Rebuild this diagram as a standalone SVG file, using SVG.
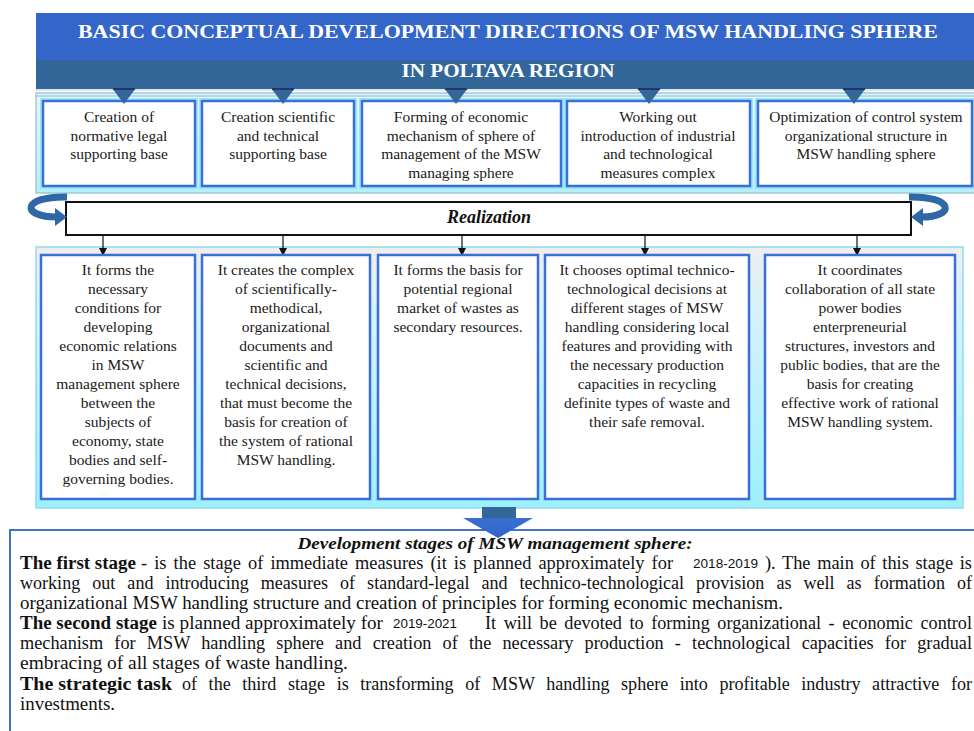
<svg xmlns="http://www.w3.org/2000/svg" width="974" height="731" viewBox="0 0 974 731">
<style>
.t{font-family:"Liberation Serif","Times New Roman",serif;font-size:15.5px;fill:#1a1a1a;text-anchor:middle}
.b{font-family:"Liberation Serif","Times New Roman",serif;font-size:18px;fill:#111}
.bb{font-weight:bold}
.yr{font-family:"Liberation Sans",Arial,sans-serif;font-size:13px;fill:#111}
.box{fill:#fff;stroke:#3a6fd8;stroke-width:2.5}
.glow{fill:none;stroke:#9fe6f5;stroke-width:6}
.tri{fill:#336699}
.conn{stroke:#111;stroke-width:1.2;fill:none;marker-end:url(#ah)}
.curl{fill:none;stroke:#2f68a6;stroke-width:7;stroke-linecap:butt}
.curlh{fill:#2f68a6}
</style>
<defs>
<marker id="ah" markerWidth="8" markerHeight="8" refX="7" refY="4" orient="auto" markerUnits="userSpaceOnUse">
<path d="M0,0 L8,4 L0,8 z" fill="#111"/>
</marker>
<linearGradient id="pb" x1="0" y1="0" x2="0" y2="1">
<stop offset="0" stop-color="#eeeeee"/>
<stop offset="0.25" stop-color="#d6f2fa"/>
<stop offset="1" stop-color="#9ef0fd"/>
</linearGradient>
<linearGradient id="pt" x1="0" y1="0" x2="0" y2="1">
<stop offset="0" stop-color="#e6f7fb"/>
<stop offset="1" stop-color="#b4f0fb"/>
</linearGradient>
<linearGradient id="ar" x1="0" y1="0" x2="0" y2="1">
<stop offset="0" stop-color="#3a6fd0"/>
<stop offset="1" stop-color="#2f64cf"/>
</linearGradient>
</defs>

<!-- header -->
<g id="header">
<rect x="36" y="13" width="945" height="47" fill="#3465c8"/>
<rect x="36" y="60" width="945" height="29" fill="#336799"/>
<line x1="36" y1="90" x2="974" y2="90" stroke="#d0dce8" stroke-width="1.5"/>
<text x="508" y="38" text-anchor="middle" textLength="860" lengthAdjust="spacingAndGlyphs" style="font-family:'Liberation Serif','Times New Roman',serif;font-size:19px;font-weight:bold;fill:#fff">BASIC CONCEPTUAL  DEVELOPMENT  DIRECTIONS OF MSW  HANDLING SPHERE</text>
<text x="508" y="77" text-anchor="middle" textLength="213" lengthAdjust="spacingAndGlyphs" style="font-family:'Liberation Serif','Times New Roman',serif;font-size:19px;font-weight:bold;fill:#fff">IN POLTAVA REGION</text>
</g>

<!-- top panel -->
<g id="top-panel">
<rect x="36" y="93" width="945" height="100" fill="url(#pt)" stroke="#9fc9d6" stroke-width="1.5"/>
<line x1="36" y1="96" x2="974" y2="96" stroke="#7fb6e8" stroke-width="1"/>
</g>

<g id="d1">
<rect class="glow" x="43" y="101" width="152" height="85"/>
<rect class="box" x="43" y="101" width="152" height="85"/>
<text class="t" x="119" y="122">Creation of</text>
<text class="t" x="119" y="140.5">normative legal</text>
<text class="t" x="119" y="159">supporting base</text>
</g>
<g id="d2">
<rect class="glow" x="202" y="101" width="152" height="85"/>
<rect class="box" x="202" y="101" width="152" height="85"/>
<text class="t" x="278" y="122">Creation scientific</text>
<text class="t" x="278" y="140.5">and technical</text>
<text class="t" x="278" y="159">supporting base</text>
</g>
<g id="d3">
<rect class="glow" x="362" y="101" width="199" height="85"/>
<rect class="box" x="362" y="101" width="199" height="85"/>
<text class="t" x="461" y="122">Forming of economic</text>
<text class="t" x="461" y="140.5">mechanism of sphere of</text>
<text class="t" x="461" y="159">management of the MSW</text>
<text class="t" x="461" y="177.5">managing  sphere</text>
</g>
<g id="d4">
<rect class="glow" x="567" y="101" width="183" height="85"/>
<rect class="box" x="567" y="101" width="183" height="85"/>
<text class="t" x="658" y="122">Working out</text>
<text class="t" x="658" y="140.5">introduction of industrial</text>
<text class="t" x="658" y="159">and technological</text>
<text class="t" x="658" y="177.5">measures complex</text>
</g>
<g id="d5">
<rect class="glow" x="758" y="101" width="214" height="85"/>
<rect class="box" x="758" y="101" width="214" height="85"/>
<text class="t" x="866" y="122">Optimization of control system</text>
<text class="t" x="866" y="140.5">organizational  structure in</text>
<text class="t" x="866" y="159">MSW handling sphere</text>
</g>

<g id="triangles">
<polygon class="tri" points="112,88 136,88 124,104"/>
<polygon class="tri" points="271,88 295,88 283,104"/>
<polygon class="tri" points="444,88 468,88 456,104"/>
<polygon class="tri" points="637,88 661,88 649,104"/>
<polygon class="tri" points="842,88 866,88 854,104"/>
<g fill="#26346e">
<rect x="113" y="88" width="22" height="2"/>
<rect x="272" y="88" width="22" height="2"/>
<rect x="445" y="88" width="22" height="2"/>
<rect x="638" y="88" width="22" height="2"/>
<rect x="843" y="88" width="22" height="2"/>
</g>
</g>

<!-- realization -->
<g id="realization">
<rect x="66" y="202" width="845" height="33" fill="#fff" stroke="#111" stroke-width="2"/>
<text x="489" y="223" text-anchor="middle" style="font-family:'Liberation Serif','Times New Roman',serif;font-size:18px;font-weight:bold;font-style:italic;fill:#111">Realization</text>
</g>

<g id="curls">
<path class="curl" d="M 67 197 C 22 196, 20 217, 57 217"/>
<polygon class="curlh" points="55,208 67,217 55,226"/>
<path class="curl" d="M 909 197 C 954 196, 956 217, 921 217"/>
<polygon class="curlh" points="923,208 911,217 923,226"/>
</g>

<!-- bottom panel -->
<g id="bottom-panel">
<rect x="36" y="247" width="927" height="261" fill="url(#pb)" stroke="#8fdcec" stroke-width="1.5"/>
</g>

<g id="connectors">
<line class="conn" x1="103" y1="235" x2="103" y2="255"/>
<line class="conn" x1="283" y1="235" x2="283" y2="255"/>
<line class="conn" x1="462" y1="235" x2="462" y2="255"/>
<line class="conn" x1="645" y1="235" x2="645" y2="255"/>
<line class="conn" x1="857" y1="235" x2="857" y2="255"/>
</g>

<g id="r1">
<rect class="box" x="41" y="255" width="154" height="244"/>
<text class="t" x="118" y="275">It forms the</text>
<text class="t" x="118" y="294">necessary</text>
<text class="t" x="118" y="313">conditions for</text>
<text class="t" x="118" y="332">developing</text>
<text class="t" x="118" y="351">economic relations</text>
<text class="t" x="118" y="370">in MSW</text>
<text class="t" x="118" y="389">management sphere</text>
<text class="t" x="118" y="408">between the</text>
<text class="t" x="118" y="427">subjects of</text>
<text class="t" x="118" y="446">economy,   state</text>
<text class="t" x="118" y="465">bodies and self-</text>
<text class="t" x="118" y="484">governing bodies.</text>
</g>
<g id="r2">
<rect class="box" x="202" y="255" width="168" height="244"/>
<text class="t" x="286" y="275">It creates the complex</text>
<text class="t" x="286" y="294">of scientifically-</text>
<text class="t" x="286" y="313">methodical,</text>
<text class="t" x="286" y="332">organizational</text>
<text class="t" x="286" y="351">documents and</text>
<text class="t" x="286" y="370">scientific and</text>
<text class="t" x="286" y="389">technical decisions,</text>
<text class="t" x="286" y="408">that must become the</text>
<text class="t" x="286" y="427">basis for creation of</text>
<text class="t" x="286" y="446">the system of rational</text>
<text class="t" x="286" y="465">MSW handling.</text>
</g>
<g id="r3">
<rect class="box" x="378" y="255" width="160" height="244"/>
<text class="t" x="458" y="275">It forms the basis for</text>
<text class="t" x="458" y="294">potential regional</text>
<text class="t" x="458" y="313">market of wastes as</text>
<text class="t" x="458" y="332">secondary resources.</text>
</g>
<g id="r4">
<rect class="box" x="545" y="255" width="204" height="244"/>
<text class="t" x="647" y="275">It chooses optimal technico-</text>
<text class="t" x="647" y="294">technological decisions at</text>
<text class="t" x="647" y="313">different stages of MSW</text>
<text class="t" x="647" y="332">handling considering  local</text>
<text class="t" x="647" y="351">features and providing  with</text>
<text class="t" x="647" y="370">the necessary production</text>
<text class="t" x="647" y="389">capacities in recycling</text>
<text class="t" x="647" y="408">definite types of waste and</text>
<text class="t" x="647" y="427">their safe removal.</text>
</g>
<g id="r5">
<rect class="box" x="765" y="255" width="190" height="244"/>
<text class="t" x="860" y="275">It coordinates</text>
<text class="t" x="860" y="294">collaboration of all  state</text>
<text class="t" x="860" y="313">power bodies</text>
<text class="t" x="860" y="332">enterpreneurial</text>
<text class="t" x="860" y="351">structures, investors and</text>
<text class="t" x="860" y="370">public bodies, that are the</text>
<text class="t" x="860" y="389">basis for creating</text>
<text class="t" x="860" y="408">effective work of rational</text>
<text class="t" x="860" y="427">MSW  handling system.</text>
</g>

<!-- stages -->
<g id="stages">
<rect x="10" y="530" width="975" height="220" fill="#fff" stroke="#4472c4" stroke-width="2"/>
<text class="b" x="495" y="549" text-anchor="middle" textLength="395" lengthAdjust="spacingAndGlyphs" style="font-weight:bold;font-style:italic;font-size:17px">Development stages of  MSW management sphere:</text>

<text class="b bb" x="20" y="569" textLength="116" lengthAdjust="spacingAndGlyphs">The first stage</text>
<text class="b" x="141" y="569" textLength="532" lengthAdjust="spacingAndGlyphs" word-spacing="2.5">- is the stage of immediate measures (it is planned approximately for</text>
<text class="yr" x="693" y="568" textLength="65" lengthAdjust="spacingAndGlyphs">2018-2019</text>
<text class="b" x="765" y="569" textLength="207" lengthAdjust="spacingAndGlyphs" word-spacing="2">). The main of this stage is</text>

<text class="b" x="20" y="589" textLength="952" lengthAdjust="spacingAndGlyphs" word-spacing="7.5">working out and introducing measures of standard-legal and technico-technological provision as well as formation of</text>
<text class="b" x="20" y="609" textLength="763" lengthAdjust="spacingAndGlyphs">organizational MSW handling structure and creation of principles for forming economic mechanism.</text>

<text class="b bb" x="20" y="629" textLength="137" lengthAdjust="spacingAndGlyphs">The second stage</text>
<text class="b" x="162" y="629" textLength="221" lengthAdjust="spacingAndGlyphs">is planned approximately for</text>
<text class="yr" x="393" y="628" textLength="64" lengthAdjust="spacingAndGlyphs">2019-2021</text>
<text class="b" x="485" y="629" textLength="487" lengthAdjust="spacingAndGlyphs" word-spacing="3">It will be devoted to forming organizational - economic control</text>

<text class="b" x="20" y="649" textLength="952" lengthAdjust="spacingAndGlyphs" word-spacing="6.5">mechanism for MSW handling sphere and creation of the necessary production - technological capacities for gradual</text>
<text class="b" x="20" y="669" textLength="328" lengthAdjust="spacingAndGlyphs">embracing of all stages of waste handling.</text>

<text class="b bb" x="20" y="690" textLength="152" lengthAdjust="spacingAndGlyphs">The strategic task</text>
<text class="b" x="182" y="690" textLength="790" lengthAdjust="spacingAndGlyphs" word-spacing="7">of the third stage is transforming of MSW handling sphere into profitable industry attractive   for</text>
<text class="b" x="20" y="710" textLength="95" lengthAdjust="spacingAndGlyphs">investments.</text>
</g>

<g id="down-arrow">
<rect x="482" y="507" width="34" height="12" fill="#336699"/>
<polygon points="463,518 533,518 498,538" fill="url(#ar)"/>
</g>
</svg>
